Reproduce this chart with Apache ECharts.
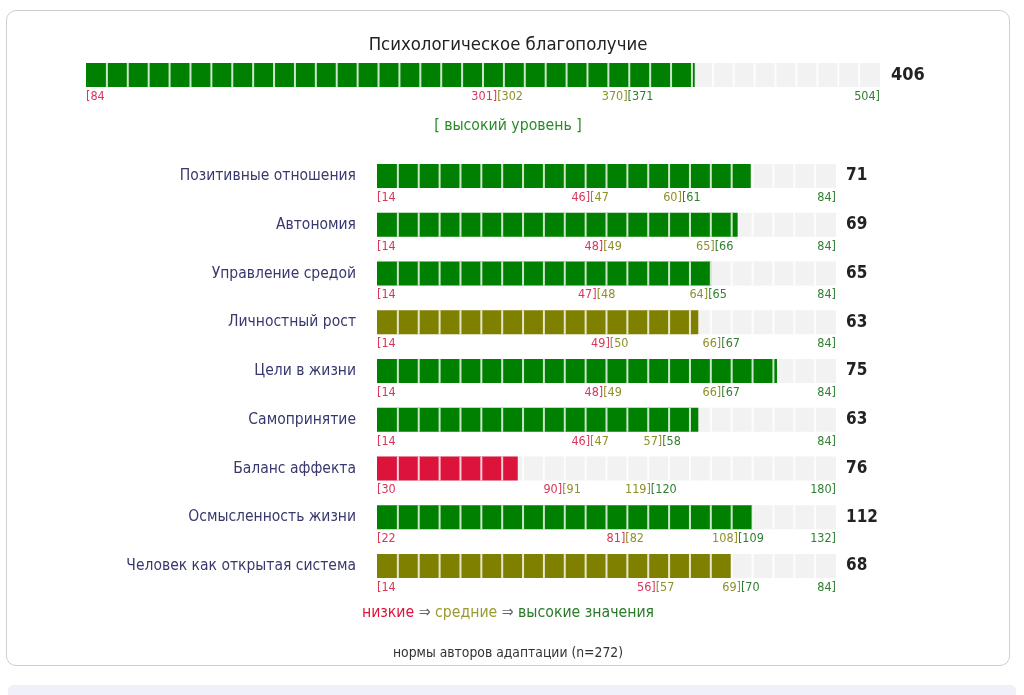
<!DOCTYPE html>
<html>
<head>
<meta charset="utf-8">
<script src="https://cdn.jsdelivr.net/npm/echarts@6/dist/echarts.min.js"></script>
<style>
  html, body { margin: 0; padding: 0; background: #fff; width: 1024px; height: 695px; overflow: hidden; }
  #card { position: absolute; left: 6px; top: 10px; width: 1002px; height: 654px; border: 1px solid #cfcfcf; border-radius: 10px; box-sizing: content-box; }
  #band { position: absolute; left: 8px; top: 685px; width: 1008px; height: 20px; background: #f0f0f8; border-radius: 6px; }
  #chart { position: absolute; left: 0; top: 0; width: 1016px; height: 695px; }
</style>
</head>
<body>
<div id="card"></div>
<div id="band"></div>
<div id="chart"></div>
<script>
// ---- data ----
const totalTitle = 'Психологическое благополучие';
const totalValue = 406;
const totalMin = 84;
const totalMax = 504;
const totalLowMax = 301;
const totalMidMax = 370;
const totalLevelText = '[ высокий уровень ]';

const names = [
  'Позитивные отношения',
  'Автономия',
  'Управление средой',
  'Личностный рост',
  'Цели в жизни',
  'Самопринятие',
  'Баланс аффекта',
  'Осмысленность жизни',
  'Человек как открытая система'
];
const values  = [71, 69, 65, 63, 75, 63, 76, 112, 68];
const mins    = [14, 14, 14, 14, 14, 14, 30, 22, 14];
const maxs    = [84, 84, 84, 84, 84, 84, 180, 132, 84];
const lowMax  = [46, 48, 47, 49, 48, 46, 90, 81, 56];
const midMax  = [60, 65, 64, 66, 66, 57, 119, 108, 69];

const legendLow = 'низкие';
const legendMid = 'средние';
const legendHigh = 'высокие значения';
const footnote = 'нормы авторов адаптации (n=272)';

// ---- styles ----
const FONT = "'DejaVu Sans Condensed', 'DejaVu Sans', sans-serif";
const RED = '#dc143c', OLIVE = '#808000', GREEN = '#008000';
const TICK_RED = '#d9365a', TICK_OLIVE = '#8f8f2a', TICK_GREEN = '#2f7f2f';
const BG = '#f2f2f2';
const CELL = 20.88;

function levelColor(v, a, b) { return v <= a ? RED : (v <= b ? OLIVE : GREEN); }

function makeRender(valueFontSize, valueGap) {
  return function (params, api) {
    const v = api.value(0), lo = api.value(1), hi = api.value(2), a = api.value(3), b = api.value(4);
    const h = api.size([0, 1])[1];
    const p0 = api.coord([lo, 0]);
    const p1 = api.coord([hi, 0]);
    const pv = api.coord([v, 0]);
    const pa = api.coord([a + 0.5, 0]);
    const pb = api.coord([b + 0.5, 0]);
    const y = p0[1] - h / 2;
    const span = p1[0] - p0[0];
    const children = [];
    children.push({ type: 'rect', shape: { x: p0[0], y: y, width: span, height: h }, style: { fill: BG } });
    children.push({ type: 'rect', shape: { x: p0[0], y: y, width: pv[0] - p0[0], height: h }, style: { fill: levelColor(v, a, b) } });
    const n = Math.round(span / CELL);
    const step = span / n;
    for (let k = 1; k < n; k++) {
      const x = p0[0] + k * step;
      children.push({ type: 'line', shape: { x1: x, y1: y, x2: x, y2: y + h }, style: { stroke: 'rgba(255,255,255,0.8)', lineWidth: 2 } });
    }
    const ty = y + h + 3;
    const tf = '12.5px ' + FONT;
    const txt = (t, x, align, color) => ({ type: 'text', x: x, y: ty, style: { text: t, textAlign: align, textVerticalAlign: 'top', fill: color, font: tf } });
    children.push(txt('[' + lo, p0[0], 'left', TICK_RED));
    children.push(txt(a + ']', pa[0], 'right', TICK_RED));
    children.push(txt('[' + (a + 1), pa[0], 'left', TICK_OLIVE));
    children.push(txt(b + ']', pb[0], 'right', TICK_OLIVE));
    children.push(txt('[' + (b + 1), pb[0], 'left', TICK_GREEN));
    children.push(txt(hi + ']', p1[0], 'right', TICK_GREEN));
    children.push({ type: 'text', x: p1[0] + valueGap, y: p0[1], style: { text: String(v), textAlign: 'left', textVerticalAlign: 'middle', fill: '#222', font: 'bold ' + valueFontSize + 'px ' + FONT } });
    return { type: 'group', children: children };
  };
}

const grids = [], xAxes = [], yAxes = [], series = [];
// total bar
grids.push({ left: 86, width: 794, top: 63, height: 24 });
xAxes.push({ gridIndex: 0, type: 'value', min: totalMin, max: totalMax, show: false });
yAxes.push({ gridIndex: 0, type: 'category', data: [totalTitle], show: false });
series.push({ type: 'custom', xAxisIndex: 0, yAxisIndex: 0, renderItem: makeRender(18, 11), data: [[totalValue, totalMin, totalMax, totalLowMax, totalMidMax]], silent: true });

names.forEach((nm, i) => {
  const gi = i + 1;
  grids.push({ left: 377, width: 459, top: 164 + i * 48.75, height: 24 });
  xAxes.push({ gridIndex: gi, type: 'value', min: mins[i], max: maxs[i], show: false });
  yAxes.push({
    gridIndex: gi, type: 'category', data: [nm],
    axisLine: { show: false }, axisTick: { show: false }, splitLine: { show: false },
    axisLabel: { margin: 21, color: '#38386e', fontSize: 15.5, fontFamily: FONT, padding: [3, 0, 0, 0] }
  });
  series.push({ type: 'custom', xAxisIndex: gi, yAxisIndex: gi, renderItem: makeRender(17, 10), data: [[values[i], mins[i], maxs[i], lowMax[i], midMax[i]]], silent: true });
});

const chart = echarts.init(document.getElementById('chart'), null, { renderer: 'canvas' });
chart.setOption({
  animation: false,
  backgroundColor: 'transparent',
  title: [
    { text: totalTitle, left: 'center', top: 31, textStyle: { fontSize: 18.4, fontWeight: 'normal', color: '#222', fontFamily: FONT } },
    { text: totalLevelText, left: 'center', top: 113, textStyle: { fontSize: 15.7, fontWeight: 'normal', color: '#2a8a2a', fontFamily: FONT } },
    {
      text: '{r|' + legendLow + '} {a|⇒} {o|' + legendMid + '} {a|⇒} {g|' + legendHigh + '}',
      left: 'center', top: 600,
      textStyle: {
        fontSize: 15.7, fontFamily: FONT, fontWeight: 'normal',
        rich: {
          r: { color: RED, fontSize: 15.7, fontFamily: FONT, fontWeight: 'normal' },
          o: { color: '#9a9a30', fontSize: 15.7, fontFamily: FONT, fontWeight: 'normal' },
          g: { color: '#2a7a2a', fontSize: 15.7, fontFamily: FONT, fontWeight: 'normal' },
          a: { color: '#666', fontSize: 15.7, fontFamily: FONT, fontWeight: 'normal' }
        }
      }
    },
    { text: footnote, left: 'center', top: 641, textStyle: { fontSize: 13.8, fontWeight: 'normal', color: '#333', fontFamily: FONT } }
  ],
  grid: grids,
  xAxis: xAxes,
  yAxis: yAxes,
  series: series
});
</script>
</body>
</html>
